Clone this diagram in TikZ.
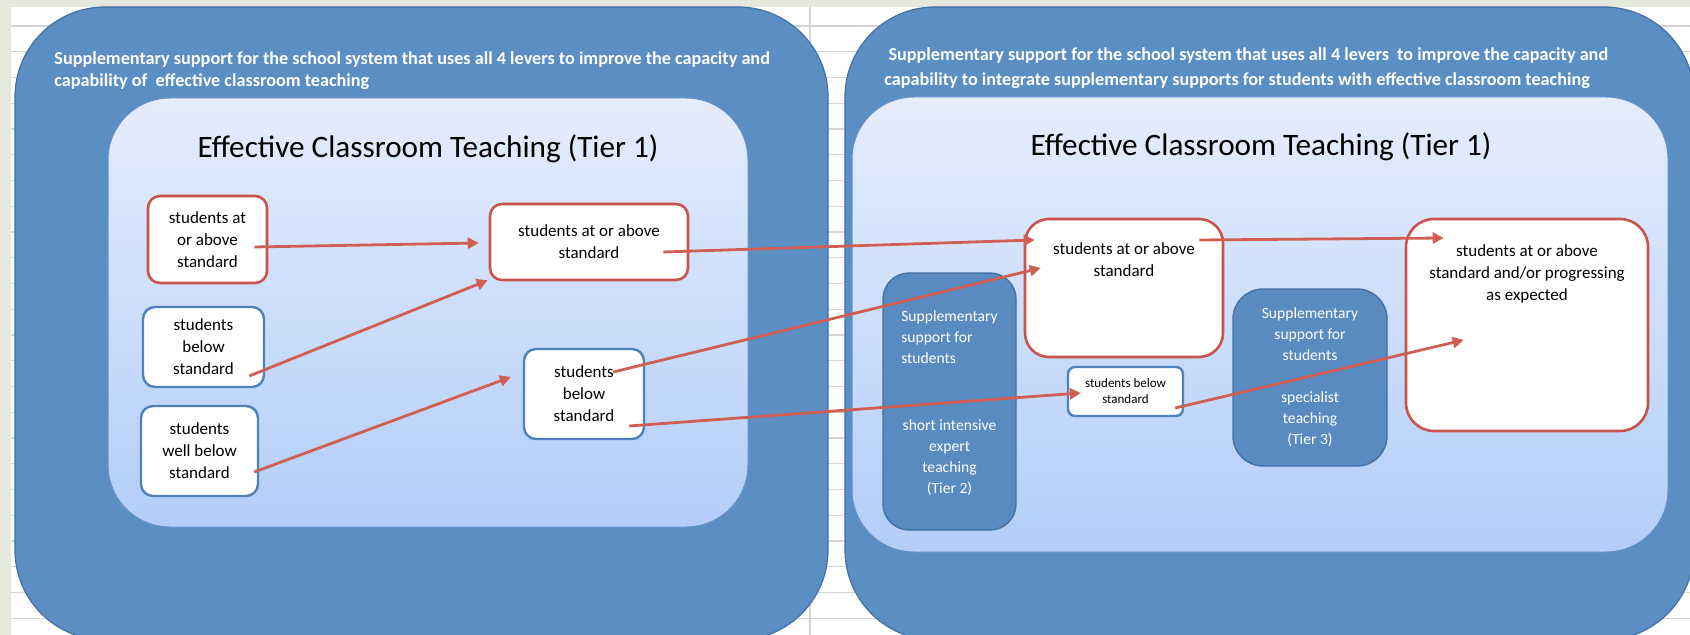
\documentclass[tikz,border=0pt]{standalone}
\usepackage{fontspec}
\setmainfont{Carlito}
\definecolor{sheetgrey}{RGB}{229,233,221}
\definecolor{gridgrey}{RGB}{212,212,212}
\definecolor{outerblue}{RGB}{91,142,195}
\definecolor{outeredge}{RGB}{68,112,165}
\definecolor{innertop}{RGB}{229,237,252}
\definecolor{innerbottom}{RGB}{178,206,249}
\definecolor{inneredge}{RGB}{104,144,200}
\definecolor{tierred}{RGB}{200,84,76}
\definecolor{arrowred}{RGB}{208,94,82}
\definecolor{boxblue}{RGB}{79,129,189}
\definecolor{supportblue}{RGB}{89,139,193}
\usepackage{tikz}
\usetikzlibrary{arrows.meta,positioning}

\newcommand{\boxtextfont}{\fontsize{8.5}{11}\selectfont}
\newcommand{\supportfont}{\fontsize{7.8}{10.5}\selectfont}

\begin{document}
\begin{tikzpicture}[x=0.5pt,y=-0.5pt,
    outerbox/.style={draw=outeredge,line width=0.6pt,fill=outerblue,rounded corners=45pt},
    innerbox/.style={draw=inneredge,line width=0.5pt,top color=innertop,bottom color=innerbottom,rounded corners=31pt},
    caption/.style={text=white,font=\bfseries\fontsize{9.1}{11}\selectfont,align=left,inner sep=0pt},
    tiertitle/.style={font=\fontsize{15.6}{18}\selectfont,inner sep=0pt},
    redbox/.style={draw=tierred,line width=1.3pt,fill=white,rounded corners=6pt,inner sep=0pt,align=center,font=\boxtextfont},
    bluebox/.style={draw=boxblue,line width=1.2pt,fill=white,rounded corners=6pt,inner sep=0pt,align=center,font=\boxtextfont},
    supportbox/.style={draw=outeredge,line width=0.7pt,fill=supportblue,rounded corners=13pt,inner sep=0pt,align=center,text=white,font=\supportfont},
    boxtext/.style={inner sep=0pt,align=center,font=\boxtextfont},
    flow/.style={arrowred,line width=1.4pt,-{Triangle[length=5.5pt,width=5.5pt]}}]

    \useasboundingbox (0,0) rectangle (1690,635);
    \clip (0,0) rectangle (1690,635);

    % spreadsheet behind
    \fill[white] (0,0) rectangle (1690,635);
    \foreach \k in {0,...,23}
        \draw[gridgrey,line width=0.6pt] (0,{26+25.75*\k}) -- (1690,{26+25.75*\k});
    \draw[gridgrey,line width=0.6pt] (810,7) -- (810,635);
    \fill[sheetgrey] (0,0) rectangle (1690,7);
    \fill[sheetgrey] (0,0) rectangle (11,635);

    % left panel
    \draw[outerbox] (15,7) rectangle (828,640);
    \node[caption,anchor=west] (capleft) at (54,71)
        {Supplementary support for the school system that uses all 4 levers to improve the capacity and\\capability of ~effective classroom teaching};
    \draw[innerbox] (108,98) rectangle (748,527);
    \node[tiertitle] (titleleft) at (428,149) {Effective Classroom Teaching (Tier 1)};

    \node[redbox,minimum width=59.5pt,minimum height=43.5pt] (aboveA) at (207.5,239.5) {students at\\or above\\standard};
    \node[redbox,minimum width=99pt,minimum height=38pt] (aboveB) at (589,242) {students at or above\\standard};
    \node[bluebox,minimum width=60.5pt,minimum height=40pt] (belowA) at (203.5,347) {students\\below\\standard};
    \node[bluebox,minimum width=58.5pt,minimum height=45pt] (wellbelow) at (199.5,451) {students\\well below\\standard};
    \node[bluebox,minimum width=60pt,minimum height=45pt] (belowB) at (584,394) {students\\below\\standard};

    % right panel
    \draw[outerbox] (845,7) rectangle (1694,640);
    \node[caption,anchor=west,font=\bfseries\fontsize{9.1}{12.5}\selectfont] (capright) at (884,68)
        {~Supplementary support for the school system that uses all 4 levers ~to improve the capacity and\\capability to integrate supplementary supports for students with effective classroom teaching};
    \draw[innerbox] (852,97) rectangle (1668,552);
    \node[tiertitle] (titleright) at (1261,147) {Effective Classroom Teaching (Tier 1)};

    \node[supportbox,minimum width=66.5pt,minimum height=128.5pt] (tiertwo) at (949.5,401.5)
        {\begin{tabular}[b]{@{}l@{}}Supplementary\\support for\\students\end{tabular}\\[23pt]short intensive\\expert\\teaching\\(Tier 2)};
    \node[supportbox,rounded corners=15pt,minimum width=77pt,minimum height=88.5pt] (tierthree) at (1310,377.5)
        {Supplementary\\support for\\students\\[10.5pt]specialist\\teaching\\(Tier 3)};

    \node[redbox,rounded corners=12pt,minimum width=99pt,minimum height=69pt] (aboveC) at (1124,288) {};
    \node[boxtext,below=12.5pt of aboveC.north] (aboveCtext) {students at or above\\standard};
    \node[redbox,rounded corners=14pt,minimum width=121pt,minimum height=106pt] (expected) at (1527,325) {};
    \node[boxtext,below=13.5pt of expected.north] (expectedtext) {students at or above\\standard and/or progressing\\as expected};
    \node[bluebox,rounded corners=3.5pt,minimum width=57.5pt,minimum height=24.5pt,font=\fontsize{6.5}{8}\selectfont] (belowC) at (1125.5,391.5) {students below\\standard};

    % movement between groups
    \draw[flow] ([shift={(-14,7.5)}]aboveA.east) -- ([shift={(-10,1)}]aboveB.west);
    \draw[flow] ([shift={(-16,29)}]belowA.east) -- ([shift={(-1,-1)}]aboveB.south west);
    \draw[flow] ([shift={(-5,21)}]wellbelow.east) -- ([shift={(-12,-17)}]belowB.west);
    \draw[flow] ([shift={(-26,10)}]aboveB.east) -- ([shift={(11,-48)}]aboveC.west);
    \draw[flow] ([shift={(-32,-22)}]belowB.east) -- ([shift={(17,-20)}]aboveC.west);
    \draw[flow] ([shift={(-16,32)}]belowB.east) -- ([shift={(14,1.5)}]belowC.west);
    \draw[flow] ([shift={(-25,-48)}]aboveC.east) -- ([shift={(39,-87)}]expected.west);
    \draw[flow] ([shift={(-9,16.5)}]belowC.east) -- ([shift={(59,15)}]expected.west);
\end{tikzpicture}
\end{document}
